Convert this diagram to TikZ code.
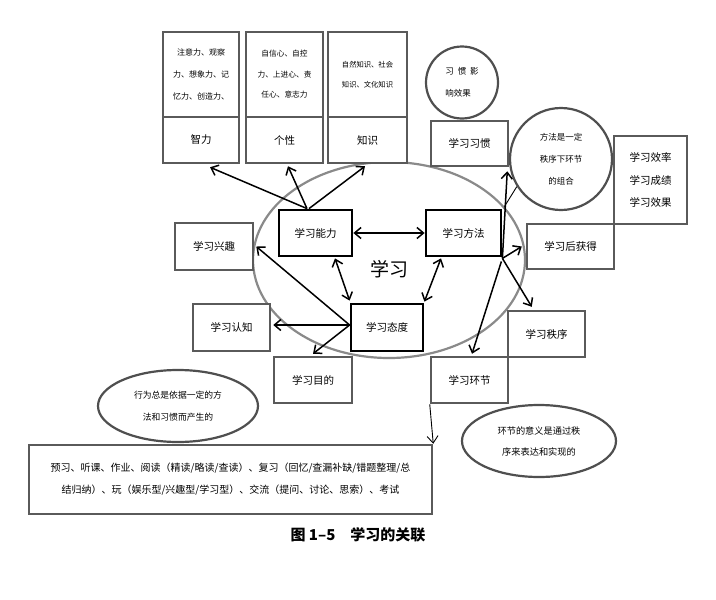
\documentclass[tikz,border=0pt]{standalone}
\usepackage{fontspec}
\setmainfont{Noto Sans CJK SC}
\usetikzlibrary{arrows.meta,shapes.geometric,calc}
\definecolor{boxgray}{HTML}{5A5A5A}
\definecolor{ellgray}{HTML}{8A8A8A}
\definecolor{circgray}{HTML}{4F4F4F}
\begin{document}
\begin{tikzpicture}[x=1pt,y=-1pt,
  gbox/.style={draw=boxgray, line width=2.5pt, fill=white, inner sep=0pt, align=center, font=\fontsize{10.5}{22.5}\selectfont},
  kbox/.style={draw=black, line width=2.8pt, fill=white, inner sep=0pt, align=center, font=\fontsize{10.5}{12}\selectfont},
  note/.style={draw=circgray, line width=2.2pt, fill=white, inner sep=0pt, align=center},
  arr/.style={draw=black, line width=1.5pt, -{Straight Barb[length=6.5pt,width=11pt]}},
  darr/.style={draw=black, line width=1.5pt, {Straight Barb[length=6.5pt,width=11pt]}-{Straight Barb[length=6.5pt,width=11pt]}},
  thin/.style={draw=black, line width=0.9pt}
]
\useasboundingbox (0,0) rectangle (716,600);
% main ellipse
\node[draw=ellgray, line width=2.2pt, ellipse, minimum width=272pt, minimum height=196pt, inner sep=0pt] (ell) at (389,260) {};
\node[font=\fontsize{19}{20}\selectfont] (xx) at (389,269) {学习};

% top boxes
\node[gbox, minimum width=76pt, minimum height=85pt, font=\fontsize{8}{22}\selectfont] (zlt) at (201,74.5) {注意力、观察\\力、想象力、记\\忆力、创造力、};
\node[gbox, minimum width=76pt, minimum height=46pt] (zl) at (201,140) {智力};
\node[gbox, minimum width=77pt, minimum height=85pt, font=\fontsize{7.7}{20.5}\selectfont] (gxt) at (284.5,74.5) {自信心、自控\\力、上进心、责\\任心、意志力};
\node[gbox, minimum width=77pt, minimum height=46pt] (gx) at (284.5,140) {个性};
\node[gbox, minimum width=79pt, minimum height=85pt, font=\fontsize{7.3}{20}\selectfont] (zst) at (367.5,74.5) {自然知识、社会\\知识、文化知识};
\node[gbox, minimum width=79pt, minimum height=46pt] (zs) at (367.5,140) {知识};

% right upper
\node[note, circle, minimum size=72pt, font=\fontsize{8.5}{22}\selectfont, align=left] (hc) at (462,82.5) {习\ \ 惯\ \ 影\\响效果};
\node[gbox, minimum width=77pt, minimum height=45pt] (xg) at (469.5,143.5) {学习习惯};
\node[note, circle, minimum size=102pt, font=\fontsize{8.5}{22}\selectfont] (ffc) at (561,159) {方法是一定\\秩序下环节\\的组合};
\node[gbox, minimum width=73pt, minimum height=88pt] (xl) at (650.5,180) {学习效率\\学习成绩\\学习效果};
\node[gbox, minimum width=87pt, minimum height=45pt] (hd) at (570.5,246.5) {学习后获得};

% core
\node[kbox, minimum width=73pt, minimum height=46pt] (nl) at (315.5,233) {学习能力};
\node[kbox, minimum width=75pt, minimum height=46pt] (ff) at (463.5,233) {学习方法};
\node[kbox, minimum width=72pt, minimum height=47pt] (td) at (387,327.5) {学习态度};

% outer
\node[gbox, minimum width=78pt, minimum height=47pt] (xq) at (214,246.5) {学习兴趣};
\node[gbox, minimum width=77pt, minimum height=47pt] (rz) at (231.5,327.5) {学习认知};
\node[gbox, minimum width=78pt, minimum height=46pt] (md) at (313,380) {学习目的};
\node[gbox, minimum width=77pt, minimum height=46pt] (zx) at (546.5,334) {学习秩序};
\node[gbox, minimum width=77pt, minimum height=46pt] (hj) at (469.5,380) {学习环节};

% bottom
\node[note, ellipse, minimum width=160pt, minimum height=72pt, font=\fontsize{8.8}{22}\selectfont] (e1) at (178,406) {行为总是依据一定的方\\法和习惯而产生的};
\node[note, ellipse, minimum width=154pt, minimum height=72pt, font=\fontsize{9.2}{21}\selectfont] (e2) at (539,441) {环节的意义是通过秩\\序来表达和实现的};
\node[gbox, minimum width=403pt, minimum height=69pt, font=\fontsize{10}{22}\selectfont] (big) at (230.5,479.5) {预习、听课、作业、阅读（精读/略读/查读）、复习（回忆/查漏补缺/错题整理/总\\结归纳）、玩（娱乐型/兴趣型/学习型）、交流（提问、讨论、思索）、考试};
\node[font=\fontsize{15}{17}\selectfont\bfseries] (cap) at (358,535) {图 1–5\hspace{15pt}学习的关联};

% connectors
\coordinate (nlt) at ([shift={(-8.5,0)}]nl.north);
\draw[arr] (nlt) -- ([shift={(9,3)}]zl.south);
\draw[arr] (nlt) -- ([shift={(3.5,2)}]gx.south);
\draw[arr] ([shift={(-6.5,0)}]nl.north) -- ([shift={(-2.5,2)}]zs.south);
\draw[darr] (nl.east) -- (ff.west);
\draw[darr] ([shift={(19.5,1)}]nl.south) -- ([shift={(0,-2)}]td.north west);
\draw[darr] ([shift={(-22.5,1)}]ff.south) -- ([shift={(0,-1)}]td.north east);
\coordinate (tdw) at ([shift={(0,-2.5)}]td.west);
\draw[arr] (tdw) -- ([shift={(2,0)}]xq.east);
\draw[arr] (tdw) -- ([shift={(2,-2.5)}]rz.east);
\draw[arr] (tdw) -- ([shift={(0,-2)}]md.north);
\coordinate (ffse) at ([shift={(0,1)}]ff.south east);
\draw[arr] (ffse) -- ([shift={(-2,4)}]xg.south east);
\draw[arr] (ffse) -- ([shift={(-4,0)}]hd.west);
\draw[arr] (ffse) -- ([shift={(25,-3)}]zx.north west);
\draw[arr] ([shift={(-1,4)}]ff.south east) -- ([shift={(2.5,-2)}]hj.north);
\draw[thin] (ffc.212) -- ([shift={(2,-2)}]ff.north east);
\draw[thin, -{Straight Barb[length=7pt,width=11pt]}] (hj.south west) -- (big.north east);
\end{tikzpicture}
\end{document}
